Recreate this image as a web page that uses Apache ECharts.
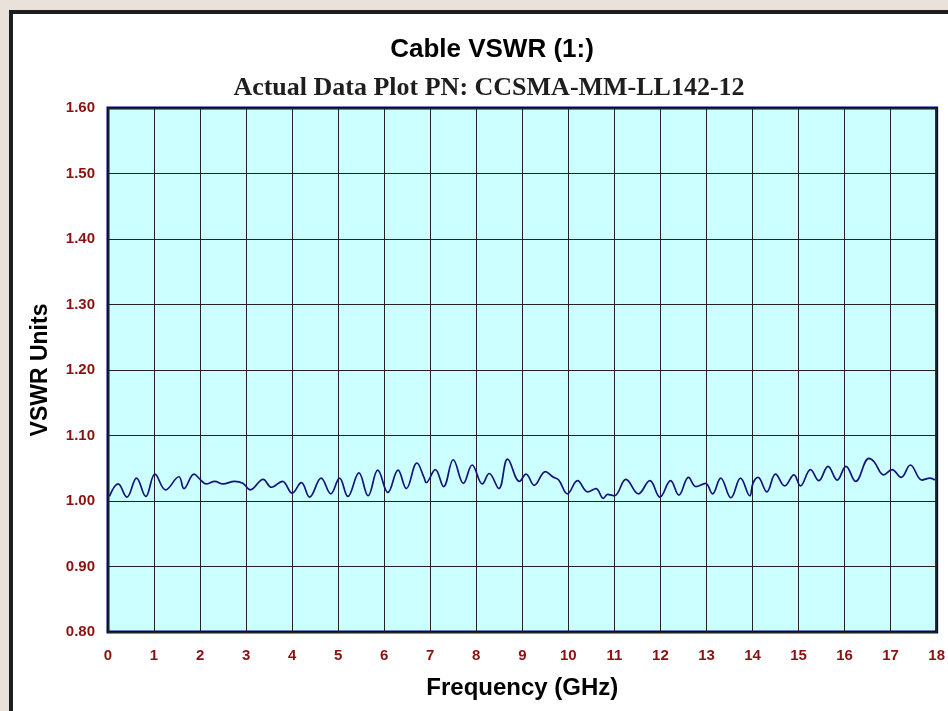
<!DOCTYPE html>
<html>
<head>
<meta charset="utf-8">
<script src="https://cdn.jsdelivr.net/npm/echarts@6/dist/echarts.min.js"></script>
<style>
  body { margin: 0; background: #e9e2da; }
  #frame { position: absolute; left: 9px; top: 10px; width: 939px; height: 701px;
           border-top: 4px solid #1e1e1e; border-left: 4px solid #1e1e1e; background: #fff; box-sizing: border-box; }
  #main { position: absolute; left: 0; top: 0; width: 948px; height: 711px; }
</style>
</head>
<body>
<div id="frame"></div>
<div id="main"></div>
<script>
// frequency (GHz) and VSWR
const freq = [
  0.03, 0.22, 0.41, 0.62, 0.82, 1.02, 1.25, 1.54, 1.65, 1.87,
  2.00, 2.13, 2.32, 2.50, 2.75, 2.93, 3.09, 3.37, 3.55, 3.79,
  4.00, 4.20, 4.38, 4.63, 4.84, 5.03, 5.21, 5.45, 5.65, 5.86,
  6.08, 6.30, 6.48, 6.71, 6.87, 6.91, 7.11, 7.29, 7.50, 7.72,
  7.91, 8.13, 8.28, 8.49, 8.68, 8.94, 9.08, 9.26, 9.50, 9.66,
  9.79, 9.98, 10.20, 10.42, 10.60, 10.76, 10.85, 11.00, 11.25, 11.52,
  11.77, 11.99, 12.22, 12.40, 12.61, 12.77, 12.98, 13.13, 13.31, 13.53,
  13.74, 13.94, 14.01, 14.12, 14.31, 14.50, 14.70, 14.90, 15.04, 15.26,
  15.44, 15.64, 15.84, 16.03, 16.24, 16.53, 16.64, 16.85, 17.03, 17.23,
  17.43, 17.68, 17.86, 17.96
];
const vswr = [
  1.007, 1.026, 1.006, 1.035, 1.007, 1.041, 1.017, 1.037, 1.019, 1.041,
  1.033, 1.026, 1.030, 1.026, 1.030, 1.027, 1.017, 1.033, 1.021, 1.030,
  1.012, 1.028, 1.006, 1.035, 1.011, 1.035, 1.007, 1.043, 1.008, 1.047,
  1.013, 1.047, 1.019, 1.058, 1.035, 1.028, 1.048, 1.022, 1.063, 1.027,
  1.055, 1.026, 1.042, 1.019, 1.064, 1.030, 1.041, 1.024, 1.045, 1.037,
  1.032, 1.011, 1.031, 1.014, 1.019, 1.004, 1.010, 1.008, 1.033, 1.011,
  1.031, 1.006, 1.031, 1.009, 1.036, 1.022, 1.027, 1.011, 1.035, 1.005,
  1.035, 1.008, 1.027, 1.036, 1.014, 1.041, 1.023, 1.040, 1.023, 1.048,
  1.031, 1.053, 1.032, 1.053, 1.030, 1.065, 1.060, 1.040, 1.048, 1.036,
  1.055, 1.032, 1.035, 1.032
];

let myChart = echarts.init(document.getElementById('main'))
let labelColor = '#8b1111'
let option = {
  animation: false,
  title: [
    {
      text: 'Cable VSWR (1:)',
      left: 487, top: 32, textAlign: 'center',
      textStyle: { fontFamily: 'Liberation Sans', fontWeight: 'bold', fontSize: 26, color: '#000' }
    },
    {
      text: 'Actual Data Plot PN: CCSMA-MM-LL142-12',
      left: 484, top: 70, textAlign: 'center',
      textStyle: { fontFamily: 'Liberation Serif', fontWeight: 'bold', fontSize: 26, color: '#1e1e1e' }
    }
  ],
  grid: {
    left: 108, right: 10, top: 108, bottom: 79,
    show: true,
    backgroundColor: '#ccffff',
    borderColor: '#000080',
    borderWidth: 3
  },
  xAxis: {
    type: 'value',
    min: 0, max: 18, interval: 1,
    name: 'Frequency (GHz)',
    nameLocation: 'middle',
    nameGap: 44,
    nameTextStyle: { fontFamily: 'Liberation Sans', fontWeight: 'bold', fontSize: 24, color: '#000' },
    axisLine: { show: false },
    axisTick: { show: false },
    axisLabel: { margin: 16, color: labelColor, fontFamily: 'Liberation Sans', fontWeight: 'bold', fontSize: 15 },
    splitLine: { show: true, lineStyle: { color: '#222', width: 1 } }
  },
  yAxis: {
    type: 'value',
    min: 0.8, max: 1.6, interval: 0.1,
    name: 'VSWR Units',
    nameLocation: 'middle',
    nameGap: 56,
    nameTextStyle: { fontFamily: 'Liberation Sans', fontWeight: 'bold', fontSize: 23, color: '#000' },
    axisLine: { show: false },
    axisTick: { show: false },
    axisLabel: {
      margin: 13, color: labelColor, fontFamily: 'Liberation Sans', fontWeight: 'bold', fontSize: 15,
      formatter: v => v.toFixed(2)
    },
    splitLine: { show: true, lineStyle: { color: '#222', width: 1 } }
  },
  series: [
    {
      type: 'line',
      data: freq.map((f, i) => [f, vswr[i]]),
      smooth: 0.4,
      showSymbol: false,
      lineStyle: { color: '#14147a', width: 1.7 }
    }
  ]
};

option && myChart.setOption(option);
</script>
</body>
</html>
